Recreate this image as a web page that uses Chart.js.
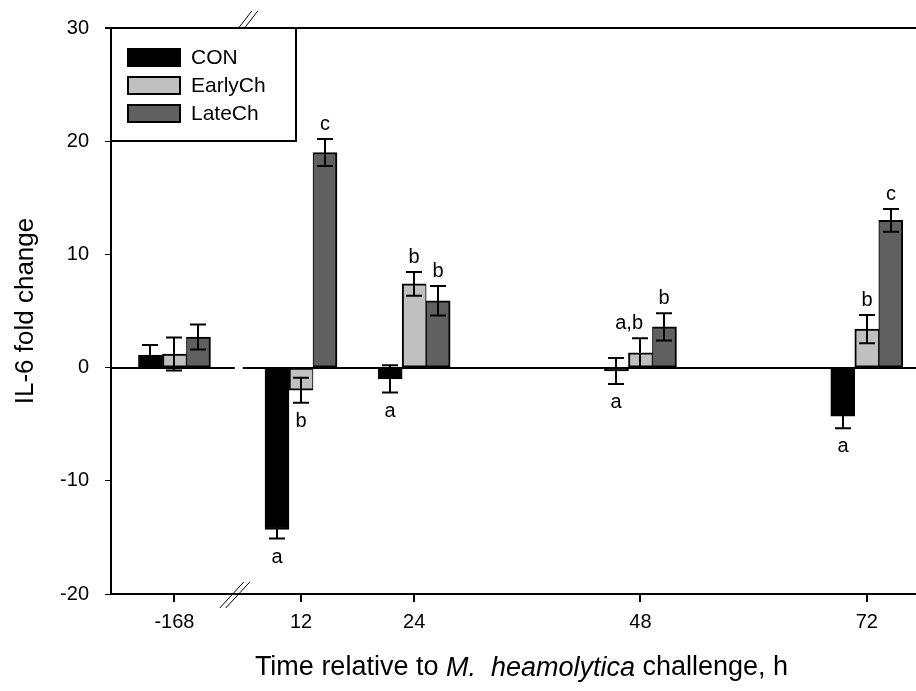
<!DOCTYPE html>
<html>
<head>
<meta charset="utf-8">
<script src="https://cdn.jsdelivr.net/npm/chart.js@4.4.1/dist/chart.umd.min.js"></script>
<style>
html,body{margin:0;padding:0;background:#fff;}
#wrap{width:916px;height:691px;position:relative;}
</style>
</head>
<body>
<div id="wrap"><canvas id="c" width="916" height="691"></canvas></div>
<script>
// ---- data ----
const times = [-168, 12, 24, 48, 72];
const tickLabels = ['-168', '12', '24', '48', '72'];
const seriesNames = ['CON', 'EarlyCh', 'LateCh'];
const conValues   = [1.1, -14.3, -1.0, -0.3, -4.3];
const conErr      = [0.9, 0.8, 1.2, 1.15, 1.05];
const earlyValues = [1.2, -2.0, 7.4, 1.3, 3.4];
const earlyErr    = [1.45, 1.1, 1.05, 1.3, 1.25];
const lateValues  = [2.7, 19.0, 5.9, 3.6, 13.0];
const lateErr     = [1.1, 1.2, 1.3, 1.2, 1.0];
const conLetters   = ['', 'a', 'a', 'a', 'a'];
const earlyLetters = ['', 'b', 'b', 'a,b', 'b'];
const lateLetters  = ['', 'c', 'b', 'b', 'c'];
const yLabel = 'IL-6 fold change';
const xLabelParts = [['Time relative to ', false], ['M.  heamolytica', true], [' challenge, h', false]];

// ---- broken x axis: negative times are shifted next to the positive ones ----
const BREAK_SHIFT = 166.58;
const BREAK_AT = 5.4;
const axisX = t => (t < 0 ? t + BREAK_SHIFT : t);

const FONT = "'Liberation Sans', Arial, Helvetica, sans-serif";
const colors = ['#000000', '#c0c0c0', '#606060'];
const borderW = [
  2,
  {top: 2, bottom: 2, left: 2, right: 1},
  {top: 2, bottom: 2, left: 1, right: 2}
];
const valuesList = [conValues, earlyValues, lateValues];
const errList = [conErr, earlyErr, lateErr];
const letterList = [conLetters, earlyLetters, lateLetters];

const datasets = seriesNames.map((name, k) => ({
  label: name,
  data: times.map((t, i) => ({x: axisX(t), y: valuesList[k][i]})),
  backgroundColor: colors[k],
  borderColor: '#000',
  borderWidth: borderW[k],
  borderSkipped: false,
  barThickness: 24,
  errors: errList[k],
  letters: letterList[k]
}));

const decor = {
  id: 'decor',
  beforeDatasetsDraw(chart) {
    const {ctx, chartArea: a, scales: {x, y}} = chart;
    const bx = x.getPixelForValue(BREAK_AT);
    const y0 = Math.round(y.getPixelForValue(0));
    ctx.save();
    ctx.strokeStyle = '#000';
    ctx.lineWidth = 2;
    ctx.beginPath();
    ctx.moveTo(a.left, y0); ctx.lineTo(bx - 4, y0);
    ctx.moveTo(bx + 4, y0); ctx.lineTo(a.right, y0);
    ctx.moveTo(a.left - 6, a.top); ctx.lineTo(a.right, a.top);
    ctx.stroke();
    ctx.restore();
  },
  afterDraw(chart) {
    const {ctx, chartArea: a, scales: {x}} = chart;
    ctx.save();
    ctx.strokeStyle = '#000';
    ctx.lineWidth = 2;
    ctx.beginPath();
    times.forEach(t => {
      const px = Math.round(x.getPixelForValue(axisX(t)));
      ctx.moveTo(px, a.bottom); ctx.lineTo(px, a.bottom + 8);
    });
    ctx.stroke();
    ctx.restore();
  },
  afterDatasetsDraw(chart) {
    const {ctx, chartArea: a, scales: {x, y}} = chart;
    ctx.save();
    // error bars + letters
    chart.data.datasets.forEach((ds, k) => {
      const meta = chart.getDatasetMeta(k);
      meta.data.forEach((bar, i) => {
        const v = ds.data[i].y, e = ds.errors[i];
        const px = Math.round(bar.x);
        const yt = y.getPixelForValue(v + e);
        const yb = y.getPixelForValue(v - e);
        ctx.strokeStyle = '#000';
        ctx.lineWidth = 2;
        ctx.beginPath();
        ctx.moveTo(px, yt); ctx.lineTo(px, yb);
        ctx.moveTo(px - 8, yt); ctx.lineTo(px + 8, yt);
        ctx.moveTo(px - 8, yb); ctx.lineTo(px + 8, yb);
        ctx.stroke();
        const L = ds.letters[i];
        if (L) {
          ctx.fillStyle = '#000';
          ctx.font = '20px ' + FONT;
          ctx.textBaseline = 'alphabetic';
          ctx.textAlign = L.length > 1 ? 'right' : 'center';
          const tx = L.length > 1 ? px + 3 : px;
          if (v >= 0) ctx.fillText(L, tx, yt - 9);
          else ctx.fillText(L, tx, yb + 24);
        }
      });
    });
    // legend box
    const lx = a.left, ly = a.top;
    ctx.fillStyle = '#fff';
    ctx.fillRect(lx + 1, ly + 1, 184, 112);
    ctx.strokeStyle = '#000';
    ctx.lineWidth = 2;
    ctx.strokeRect(lx, ly, 185, 113);
    chart.data.datasets.forEach((ds, k) => {
      const cy = ly + 29 + k * 28;
      ctx.fillStyle = ds.backgroundColor;
      ctx.fillRect(lx + 17, cy - 8, 52, 17);
      ctx.strokeStyle = '#000';
      ctx.lineWidth = 2;
      ctx.strokeRect(lx + 17, cy - 8, 52, 17);
      ctx.fillStyle = '#000';
      ctx.font = '21px ' + FONT;
      ctx.textAlign = 'left';
      ctx.textBaseline = 'middle';
      ctx.fillText(ds.label, lx + 80, cy + 1);
    });
    // axis break marks
    const bx = x.getPixelForValue(BREAK_AT);
    ctx.strokeStyle = '#000';
    ctx.lineWidth = 1;
    ctx.beginPath();
    for (let k = 0; k < 2; k++) {
      ctx.moveTo(bx - 1 + k * 6, a.top + 1); ctx.lineTo(bx + 13 + k * 6, a.top - 17);
      ctx.moveTo(bx - 19 + k * 6, a.bottom + 14); ctx.lineTo(bx + 5 + k * 6, a.bottom - 12);
    }
    ctx.stroke();
    // x axis title with italic species name
    ctx.fillStyle = '#000';
    ctx.textBaseline = 'middle';
    ctx.textAlign = 'left';
    const fNorm = '27px ' + FONT, fIt = 'italic 27px ' + FONT;
    let total = 0;
    xLabelParts.forEach(([s, it]) => { ctx.font = it ? fIt : fNorm; total += ctx.measureText(s).width; });
    let cx = (a.left + a.right) / 2 + 8 - total / 2;
    xLabelParts.forEach(([s, it]) => { ctx.font = it ? fIt : fNorm; ctx.fillText(s, cx, 668); cx += ctx.measureText(s).width; });
    ctx.restore();
  }
};

new Chart(document.getElementById('c'), {
  type: 'bar',
  data: {datasets},
  options: {
    responsive: false,
    devicePixelRatio: 1,
    animation: false,
    layout: {padding: {top: 27, right: 0, bottom: 0, left: 0}},
    plugins: {legend: {display: false}, tooltip: {enabled: false}},
    scales: {
      x: {
        type: 'linear',
        min: -8.15,
        max: 77.22,
        offset: false,
        grid: {display: true, offset: false, drawOnChartArea: false, drawTicks: true, tickLength: 8, tickWidth: 1, tickColor: '#000'},
        border: {display: true, color: '#000', width: 2},
        ticks: {
          autoSkip: false, maxRotation: 0, color: '#000', padding: 8,
          font: {family: FONT, size: 20},
          callback: (v, i) => tickLabels[i]
        },
        afterBuildTicks: s => { s.ticks = times.map(t => ({value: axisX(t)})); },
        afterFit: s => { s.height = 97; }
      },
      y: {
        type: 'linear',
        min: -20,
        max: 30,
        grid: {display: true, drawOnChartArea: false, drawTicks: true, tickLength: 6, tickWidth: 1, tickColor: '#000'},
        border: {display: true, color: '#000', width: 2},
        ticks: {stepSize: 10, color: '#000', padding: 16, font: {family: FONT, size: 20}},
        title: {display: true, text: yLabel, color: '#000', font: {family: FONT, size: 26}, padding: {top: 10, bottom: 0}},
        afterFit: s => { s.width = 111; }
      }
    }
  },
  plugins: [decor]
});
</script>
</body>
</html>
